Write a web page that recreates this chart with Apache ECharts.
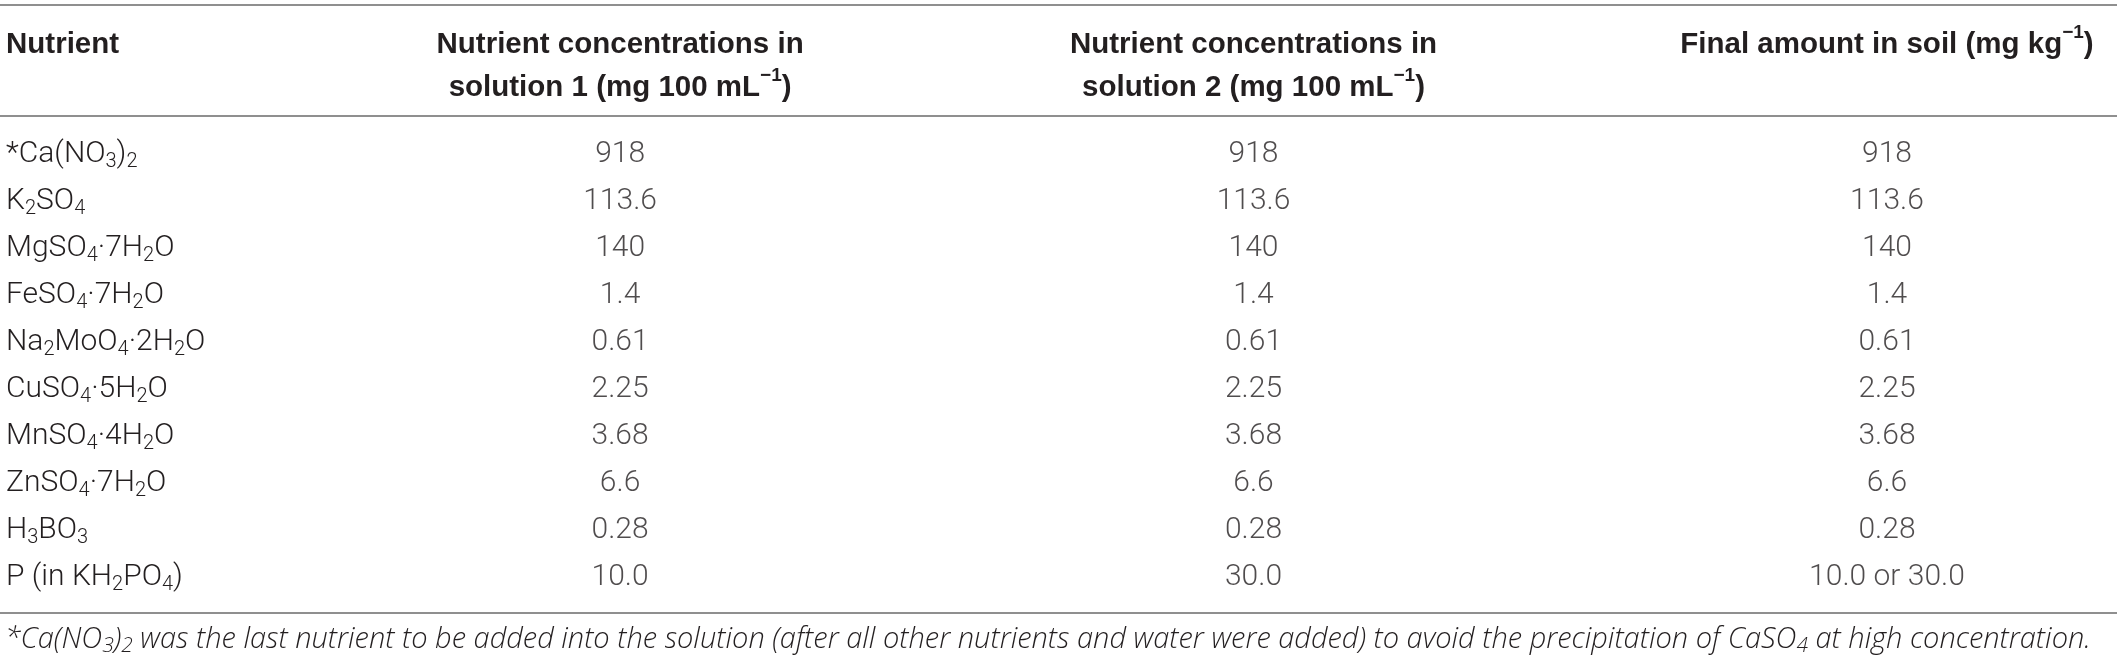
<!DOCTYPE html>
<html>
<head>
<meta charset="utf-8">
<script src="https://cdn.jsdelivr.net/npm/echarts@6/dist/echarts.min.js"></script>
<style>
  html, body { margin: 0; padding: 0; background: #fff; }
  #chart { width: 2117px; height: 662px; }
</style>
</head>
<body>
<div id="chart"></div>
<script>
// table content: "_3" = subscript, "^−1" = superscript
const nutrients = ['*Ca(NO_3)_2', 'K_2SO_4', 'MgSO_4·7H_2O', 'FeSO_4·7H_2O', 'Na_2MoO_4·2H_2O',
  'CuSO_4·5H_2O', 'MnSO_4·4H_2O', 'ZnSO_4·7H_2O', 'H_3BO_3', 'P (in KH_2PO_4)'];
const solution1 = ['918', '113.6', '140', '1.4', '0.61', '2.25', '3.68', '6.6', '0.28', '10.0'];
const solution2 = ['918', '113.6', '140', '1.4', '0.61', '2.25', '3.68', '6.6', '0.28', '30.0'];
const finalSoil = ['918', '113.6', '140', '1.4', '0.61', '2.25', '3.68', '6.6', '0.28', '10.0 or 30.0'];
const firstHeader = 'Nutrient';
const columnHeaders = [
  'Nutrient concentrations in\nsolution 1 (mg 100 mL^−1)',
  'Nutrient concentrations in\nsolution 2 (mg 100 mL^−1)',
  'Final amount in soil (mg kg^−1)'
];
const footnote = '*Ca(NO_3)_2 was the last nutrient to be added into the solution (after all other nutrients and water were added) to avoid the precipitation of CaSO_4 at high concentration.';

const TEXT = '#231f20';
const RULE = '#8f8f8f';
const BODY_FONT = 'Roboto';
const HEAD_FONT = 'Liberation Sans';
const NOTE_FONT = 'Open Sans';

function markup(s, sub, sup) {
  return s.replace(/_(\d)/g, '{' + sub + '|$1}').replace(/\^([−\d]+)/g, '{' + sup + '|$1}');
}

const bodyRich = {
  sub: { fontSize: 20, lineHeight: 16, verticalAlign: 'bottom', fontFamily: BODY_FONT, fontWeight: 300, color: TEXT }
};
const headRich = {
  hsup: { fontSize: 19, lineHeight: 16, verticalAlign: 'top', fontFamily: HEAD_FONT, fontWeight: 'bold', fill: TEXT }
};

const columns = [solution1, solution2, finalSoil];
const series = columns.map((col, c) => ({
  type: 'scatter',
  symbolSize: 0,
  silent: true,
  data: col.map((v, i) => [c + 1, i, v]),
  label: {
    show: true,
    position: 'inside',
    formatter: p => p.value[2],
    color: TEXT,
    fontFamily: BODY_FONT,
    fontWeight: 300,
    fontSize: 30
  }
}));

const gridLeft = 50;
const chart = echarts.init(document.getElementById('chart'), null, { renderer: 'canvas' });
chart.setOption({
  animation: false,
  backgroundColor: '#fff',
  grid: { left: gridLeft, right: 40, top: 131, height: 470 },
  xAxis: { type: 'value', min: 0.1, max: 3.3, show: false },
  yAxis: {
    type: 'category',
    inverse: true,
    data: nutrients,
    axisLine: { show: false },
    axisTick: { show: false },
    splitLine: { show: false },
    axisLabel: {
      align: 'left',
      margin: gridLeft - 6,
      color: TEXT,
      fontFamily: BODY_FONT,
      fontWeight: 300,
      fontSize: 30,
      lineHeight: 34,
      formatter: v => markup(v, 'sub', 'sub'),
      rich: bodyRich
    }
  },
  series: series
});

// headers, rules and footnote placed over the column positions
const colX = [1, 2, 3].map(c => chart.convertToPixel({ gridIndex: 0 }, [c, 0])[0]);
const W = chart.getWidth();
const rule = y => ({ type: 'line', silent: true, shape: { x1: 0, y1: y, x2: W, y2: y }, style: { stroke: RULE, lineWidth: 2 } });
const headStyle = {
  fill: TEXT, fontFamily: HEAD_FONT, fontWeight: 'bold', fontSize: 29.5, lineHeight: 43,
  verticalAlign: 'top', rich: headRich
};
const graphics = [rule(5), rule(116), rule(613)];
graphics.push({ type: 'text', style: Object.assign({}, headStyle, { text: firstHeader, x: 6, y: 23, align: 'left' }) });
columnHeaders.forEach((h, c) => {
  graphics.push({ type: 'text', style: Object.assign({}, headStyle, { text: markup(h, 'hsup', 'hsup'), x: colX[c], y: 23, align: 'center' }) });
});
graphics.push({
  type: 'text',
  style: {
    text: markup(footnote, 'fsub', 'fsub'), x: 5, y: 640, align: 'left', verticalAlign: 'middle',
    fill: TEXT, fontFamily: NOTE_FONT, fontWeight: 300, fontStyle: 'italic', fontSize: 29, lineHeight: 34,
    rich: { fsub: { fontSize: 21, lineHeight: 16, verticalAlign: 'bottom', fontFamily: NOTE_FONT, fontWeight: 300, fontStyle: 'italic', fill: TEXT } }
  }
});
chart.setOption({ graphic: graphics });
</script>
</body>
</html>
